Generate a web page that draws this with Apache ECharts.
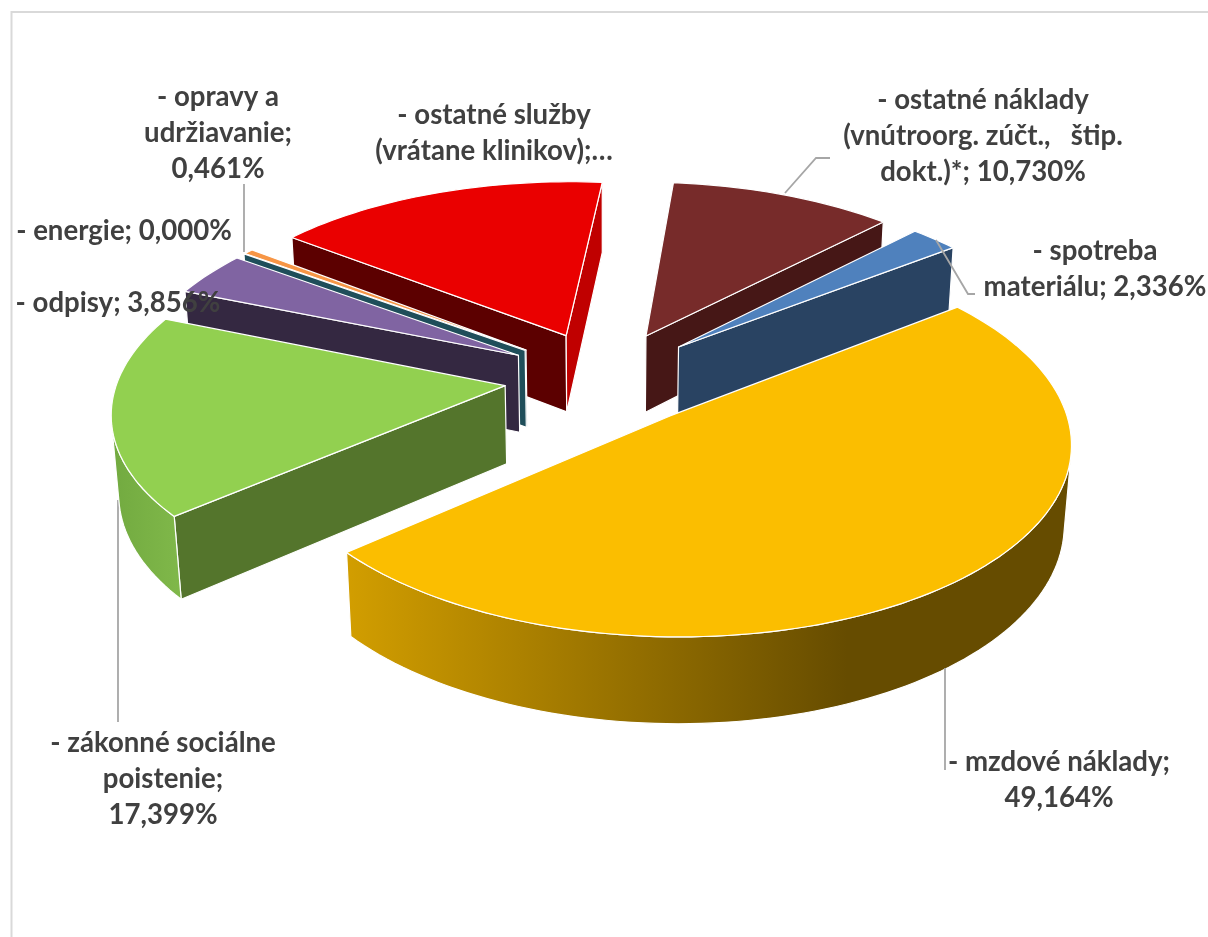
<!DOCTYPE html>
<html><head><meta charset="utf-8">
<style>html,body{margin:0;padding:0;background:#fff}#c{width:1208px;height:937px}</style>
<script src="https://cdn.jsdelivr.net/npm/echarts@6/dist/echarts.min.js"></script>
</head><body><div id="c"></div>
<script>
// ---- data ----
const categories = ['- mzdové náklady','- zákonné sociálne poistenie','- odpisy','- energie','- opravy a udržiavanie','- ostatné služby (vrátane klinikov)','- ostatné náklady (vnútroorg. zúčt.,   štip. dokt.)*','- spotreba materiálu'];
const values = [49.164, 17.399, 3.856, 0.000, 0.461, 16.054, 10.730, 2.336];
const labelTexts = [
  '- mzdové náklady;\n49,164%',
  '- zákonné sociálne\npoistenie;\n17,399%',
  '- odpisy; 3,856%',
  '- energie; 0,000%',
  '- opravy a\nudržiavanie;\n0,461%',
  '- ostatné služby\n(vrátane klinikov);…',
  '- ostatné náklady\n(vnútroorg. zúčt.,   štip.\ndokt.)*; 10,730%',
  '- spotreba\nmateriálu; 2,336%'
];
// ---- styling / layout ----
const topColors   = ['#FBBE00','#92D050','#8064A2','#1F4E5A','#F79646','#EA0000','#772B2A','#4F81BD'];
const startWalls  = ['#6B4E00','#54752C','#342841','#1F4E5A','#1F4E5A','#5C0000','#461716','#294362'];
const endWalls    = ['#6B4E00','#54752C','#342841','#1F4E5A','#1F4E5A','#C00000','#461716','#294362'];
const rimStops = [
  [[0,'#D29E00'],[0.69,'#664C00'],[1,'#664C00']],
  [[0,'#72AA40'],[1,'#80B84A']],
  [[0,'#342841'],[1,'#342841']],
  [[0,'#1F4E5A'],[1,'#1F4E5A']],
  [[0,'#B56A2A'],[1,'#B56A2A']],
  [[0,'#A00000'],[1,'#C00000']],
  [[0,'#461716'],[1,'#461716']],
  [[0,'#294362'],[1,'#294362']]
];
const labelPos = [[1059,780],[163,779],[118,303],[124,231],[218,133],[494,133],[983,136],[1095,269]];
const leaders = [
  [[945,668],[945,770]],
  [[118,722],[118,500]],
  null,
  null,
  [[244,184],[244,252]],
  null,
  [[830,158],[816,158],[785,193]],
  [[975,294],[968,294],[936,240]]
];
const scene = {cx:605, cy:378, R:387, A:183, persp:0.125, explode:0.26, H:79, shrink:0.015, startDeg:52.5};

const total = values.reduce((a,b)=>a+b,0);
function project(U,V,Z){
  const s = 1/(1 - scene.persp*V + scene.shrink*Z);
  return [scene.cx + scene.R*U*s, scene.cy + scene.A*V*s + scene.H*Z*s];
}
function area(q){let a=0;for(let i=0;i<q.length;i++){const p=q[i],n=q[(i+1)%q.length];a+=p[0]*n[1]-n[0]*p[1];}return a;}

const spans = [];
values.reduce((acc,v)=>{const d=v/total*360;spans.push([acc,acc+d]);return acc+d;},scene.startDeg);
const depthRank = spans.map((s,i)=>[-Math.cos((s[0]+s[1])/2*Math.PI/180),i]).sort((a,b)=>a[0]-b[0]).map(x=>x[1]);

function renderItem(params, api){
  const i = params.dataIndex, val = api.value(0);
  const [a0,a1] = spans[i];
  const mid = (a0+a1)/2*Math.PI/180;
  const ox = scene.explode*Math.sin(mid), oy = -scene.explode*Math.cos(mid);
  const steps = Math.max(1, Math.ceil((a1-a0)/1.5));
  const rimT=[], rimB=[];
  for(let k=0;k<=steps;k++){
    const t=(a0+(a1-a0)*k/steps)*Math.PI/180;
    const u=ox+Math.sin(t), v=oy-Math.cos(t);
    rimT.push(project(u,v,0)); rimB.push(project(u,v,1));
  }
  const apT=project(ox,oy,0), apB=project(ox,oy,1);
  const base=(depthRank.indexOf(i)+1)*10;
  const edge={stroke:'#fff',lineWidth:1.2,lineJoin:'round'};
  const children=[];
  const poly=(pts,fill,z,e)=>children.push({type:'polygon',shape:{points:pts},style:Object.assign({fill},e||edge),z2:base+z,silent:true});
  // radial walls
  const sw=[apT,rimT[0],rimB[0],apB];
  if(area(sw)<0) poly(sw,startWalls[i],1);
  const ew=[rimT[steps],apT,apB,rimB[steps]];
  if(area(ew)<0) poly(ew,endWalls[i],1);
  // outer wall: contiguous camera-facing runs
  let run=null; const runs=[];
  for(let k=0;k<steps;k++){
    const vis=area([rimT[k],rimT[k+1],rimB[k+1],rimB[k]])<0;
    if(vis){ if(!run){run=[k,k+1];runs.push(run);} else run[1]=k+1; } else run=null;
  }
  runs.forEach(r=>{
    const t=rimT.slice(r[0],r[1]+1), b=rimB.slice(r[0],r[1]+1).reverse();
    poly(t.concat(b), new echarts.graphic.LinearGradient(0,0,1,0,rimStops[i].map(s=>({offset:s[0],color:s[1]}))),2);
  });
  // top face
  if(val>0) poly([apT].concat(rimT),topColors[i],3,edge);
  // leader
  if(leaders[i]) children.push({type:'polyline',shape:{points:leaders[i]},style:{stroke:'#A6A6A6',lineWidth:1.8,fill:'none'},z2:i===1?1:500,silent:true});
  // label
  children.push({type:'text',style:{text:labelTexts[i],x:labelPos[i][0],y:labelPos[i][1],align:'center',verticalAlign:'middle',
    font:'bold 27.6px Lato',fill:'#404040',lineHeight:35.6},z2:1000,silent:true});
  return {type:'group',children};
}

const chart = echarts.init(document.getElementById('c'),null,{renderer:'canvas'});
chart.setOption({
  animation:false,
  backgroundColor:'#fff',
  graphic:[{type:'rect',shape:{x:11.5,y:12,width:1400,height:1200},style:{fill:'none',stroke:'#D9D9D9',lineWidth:2},silent:true,z:-1}],
  series:[{type:'custom',coordinateSystem:'none',renderItem,
    data:categories.map((name,i)=>({name,value:[values[i]]}))}]
});
</script></body></html>
